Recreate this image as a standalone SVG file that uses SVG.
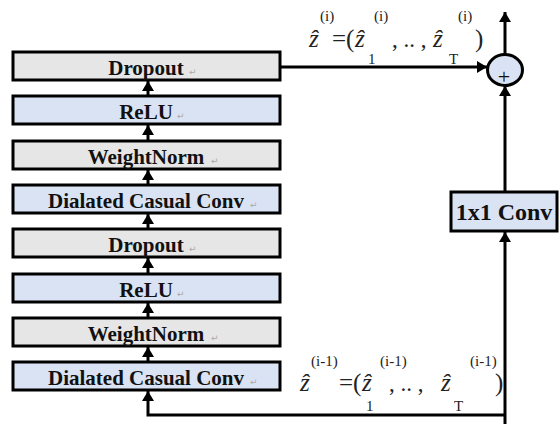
<svg xmlns="http://www.w3.org/2000/svg" width="560" height="425" viewBox="0 0 560 425">
<style>
.box{stroke:#000;stroke-width:3}
.g{fill:#e7e6e6}
.b{fill:#dae3f3}
.lbl{font-family:"Liberation Serif","Times New Roman",serif;font-weight:bold;font-size:21px;fill:#111;text-anchor:middle}
.ret{font-family:"DejaVu Sans",sans-serif;font-size:9px;fill:#aaa}
.m{font-family:"Liberation Serif","Times New Roman",serif;font-size:23px;fill:#222}
.p{font-size:25px}
.s{font-family:"Liberation Serif","Times New Roman",serif;font-size:15px;fill:#222}
.zh{font-style:italic;font-size:25px}
.ln{fill:none;stroke:#000;stroke-width:3}
</style>
<defs>
<marker id="ah" viewBox="0 0 10 12" markerWidth="10" markerHeight="12" refX="10" refY="6" orient="auto" markerUnits="userSpaceOnUse">
<path d="M0,0 L10,6 L0,12 Z" fill="#000"/>
</marker>
</defs>
<rect width="560" height="425" fill="#fff"/>
<g id="connectors">
<path class="ln" d="M148,96 V81" marker-end="url(#ah)"/>
<path class="ln" d="M148,141 V125" marker-end="url(#ah)"/>
<path class="ln" d="M148,185 V170" marker-end="url(#ah)"/>
<path class="ln" d="M148,229 V214" marker-end="url(#ah)"/>
<path class="ln" d="M148,274 V258" marker-end="url(#ah)"/>
<path class="ln" d="M148,318 V303" marker-end="url(#ah)"/>
<path class="ln" d="M148,362 V347" marker-end="url(#ah)"/>
<path class="ln" d="M505,415 H148 V391" marker-end="url(#ah)"/>
<path class="ln" d="M505,424 V232" marker-end="url(#ah)"/>
<path class="ln" d="M505,192 V86" marker-end="url(#ah)"/>
<path class="ln" d="M280,67 H487" marker-end="url(#ah)"/>
<path class="ln" d="M505,54 V12" marker-end="url(#ah)"/>
</g>
<g id="n1"><rect class="box g" x="13" y="52" width="267" height="28"/><text class="lbl" x="146" y="75">Dropout</text><text class="ret" x="189" y="75">↵</text></g>
<g id="n2"><rect class="box b" x="13" y="96" width="267" height="28"/><text class="lbl" x="146" y="119">ReLU</text><text class="ret" x="177" y="119">↵</text></g>
<g id="n3"><rect class="box g" x="13" y="141" width="267" height="28"/><text class="lbl" x="146" y="164">WeightNorm</text><text class="ret" x="211" y="164">↵</text></g>
<g id="n4"><rect class="box b" x="13" y="185" width="267" height="28"/><text class="lbl" x="146" y="208">Dialated Casual Conv</text><text class="ret" x="250" y="208">↵</text></g>
<g id="n5"><rect class="box g" x="13" y="229" width="267" height="28"/><text class="lbl" x="146" y="252">Dropout</text><text class="ret" x="189" y="252">↵</text></g>
<g id="n6"><rect class="box b" x="13" y="274" width="267" height="28"/><text class="lbl" x="146" y="297">ReLU</text><text class="ret" x="177" y="297">↵</text></g>
<g id="n7"><rect class="box g" x="13" y="318" width="267" height="28"/><text class="lbl" x="146" y="341">WeightNorm</text><text class="ret" x="211" y="341">↵</text></g>
<g id="n8"><rect class="box b" x="13" y="362" width="267" height="28"/><text class="lbl" x="146" y="385">Dialated Casual Conv</text><text class="ret" x="250" y="385">↵</text></g>
<g id="conv"><rect class="box b" x="451" y="192" width="106" height="39"/><text class="lbl" x="504" y="220" style="font-size:24px">1x1 Conv</text></g>
<g id="sum"><ellipse cx="505" cy="70" rx="17.5" ry="15.5" fill="#dae3f3" stroke="#000" stroke-width="3"/><text x="504" y="84" style="font-family:'Liberation Serif',serif;font-size:22px;text-anchor:middle" fill="#111">+</text></g>
<g id="label-top">
<text class="m zh" x="309" y="47">ẑ</text>
<text class="s" x="320" y="21">(i)</text>
<text class="m p" x="332" y="47">=(</text>
<text class="m zh" x="355" y="47">ẑ</text>
<text class="s" x="368" y="64">1</text>
<text class="s" x="374" y="21">(i)</text>
<text class="m" x="392" y="47">, .. ,</text>
<text class="m zh" x="433" y="47">ẑ</text>
<text class="s" x="449" y="64">T</text>
<text class="s" x="458" y="21">(i)</text>
<text class="m p" x="475" y="47">)</text>
</g>
<g id="label-bottom">
<text class="m zh" x="300" y="391">ẑ</text>
<text class="s" x="311" y="366">(i-1)</text>
<text class="m p" x="339" y="391">=(</text>
<text class="m zh" x="362" y="391">ẑ</text>
<text class="s" x="366" y="411">1</text>
<text class="s" x="380" y="366">(i-1)</text>
<text class="m" x="389" y="391">, .. ,</text>
<text class="m zh" x="441" y="391">ẑ</text>
<text class="s" x="454" y="411">T</text>
<text class="s" x="470" y="366">(i-1)</text>
<text class="m p" x="495" y="391">)</text>
</g>
</svg>
